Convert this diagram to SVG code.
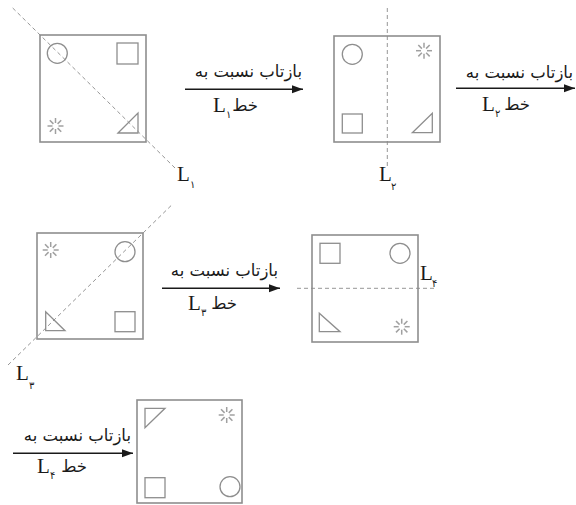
<svg xmlns="http://www.w3.org/2000/svg" width="576" height="505" viewBox="0 0 576 505">
<style>
.box{fill:none;stroke:#8e8e8e;stroke-width:1.6}
.sh{fill:none;stroke:#8e8e8e;stroke-width:1.3}
.ast{stroke:#a0a0a0;stroke-width:1.5;fill:none}
.dash{fill:none;stroke:#8a8a8a;stroke-width:0.9;stroke-dasharray:4 3}
.arr{fill:none;stroke:#1a1a1a;stroke-width:1.5}
.fa{font-family:"DejaVu Sans",sans-serif;font-size:16.5px;fill:#1a1a1a}
.L{font-family:"Liberation Serif",serif;font-size:21px;fill:#1a1a1a}
.sub{font-family:"DejaVu Sans",sans-serif;font-size:10px;fill:#1a1a1a}
</style>
<defs>
<marker id="ah" markerWidth="12" markerHeight="10" refX="11" refY="5" orient="auto" markerUnits="userSpaceOnUse">
<path d="M0,1 L11,5 L0,9 Z" fill="#1a1a1a"/>
</marker>
<g id="star" class="ast">
<line x1="0" y1="-3" x2="0" y2="-8"/>
<line x1="0" y1="3" x2="0" y2="8"/>
<line x1="-3" y1="0" x2="-8" y2="0"/>
<line x1="3" y1="0" x2="8" y2="0"/>
<line x1="2.1" y1="-2.1" x2="5.7" y2="-5.7"/>
<line x1="-2.1" y1="-2.1" x2="-5.7" y2="-5.7"/>
<line x1="2.1" y1="2.1" x2="5.7" y2="5.7"/>
<line x1="-2.1" y1="2.1" x2="-5.7" y2="5.7"/>
</g>
</defs>

<g id="node1">
<rect class="box" x="40" y="35" width="106" height="107"/>
<circle class="sh" cx="57.3" cy="53.3" r="10"/>
<rect class="sh" x="117" y="43" width="21" height="21"/>
<path class="sh" d="M118,133 L138,113 L138,133 Z"/>
<use href="#star" x="55.5" y="126"/>
</g>

<g id="node2">
<rect class="box" x="334" y="36" width="106" height="106"/>
<circle class="sh" cx="352.3" cy="54.3" r="10"/>
<use href="#star" x="424" y="50.7"/>
<rect class="sh" x="342.3" y="114" width="20" height="19"/>
<path class="sh" d="M412.3,132.7 L432.3,113.3 L432.3,132.7 Z"/>
</g>

<g id="node3">
<rect class="box" x="37" y="233" width="106" height="106"/>
<use href="#star" x="50.7" y="250"/>
<circle class="sh" cx="125" cy="251.7" r="10"/>
<path class="sh" d="M45.7,311.7 L45.7,330.7 L65,330.7 Z"/>
<rect class="sh" x="115" y="311.7" width="20" height="20"/>
</g>

<g id="node4">
<rect class="box" x="312" y="235" width="106" height="107"/>
<rect class="sh" x="320" y="243.3" width="20" height="20"/>
<circle class="sh" cx="400" cy="253.3" r="10"/>
<path class="sh" d="M319.3,313.3 L319.3,331.7 L340,331.7 Z"/>
<use href="#star" x="401.7" y="326.7"/>
</g>

<g id="node5">
<rect class="box" x="137" y="400" width="105" height="103"/>
<path class="sh" d="M145,408.3 L165,408.3 L145,427.7 Z"/>
<use href="#star" x="226.7" y="415"/>
<rect class="sh" x="145" y="477.7" width="20" height="20"/>
<circle class="sh" cx="230" cy="486.7" r="10"/>
</g>

<g id="axes">
<line class="dash" x1="12.7" y1="8" x2="175" y2="168"/>
<line class="dash" x1="387.3" y1="8" x2="387.3" y2="168"/>
<line class="dash" x1="8" y1="365" x2="171.7" y2="205"/>
<line class="dash" x1="297" y1="288.3" x2="435" y2="288.3"/>
<text class="L" x="177" y="181">L</text><text class="sub" x="190" y="188">۱</text>
<text class="L" x="379" y="181">L</text><text class="sub" x="391" y="190">۲</text>
<text class="L" x="16" y="380">L</text><text class="sub" x="29" y="389">۳</text>
<text class="L" x="420" y="280">L</text><text class="sub" x="432" y="287">۴</text>
</g>

<g id="connectors">
<line class="arr" x1="185" y1="89.3" x2="303" y2="89.3" marker-end="url(#ah)"/>
<text class="fa" x="302" y="77" text-anchor="end">بازتاب نسبت به</text>
<text class="L" x="213" y="112">L</text><text class="sub" x="226" y="118">۱</text>
<text class="fa" x="258" y="111" text-anchor="end">خط</text>

<line class="arr" x1="456" y1="88.3" x2="575" y2="88.3" marker-end="url(#ah)"/>
<text class="fa" x="573" y="78" text-anchor="end">بازتاب نسبت به</text>
<text class="L" x="482" y="111">L</text><text class="sub" x="495" y="117">۲</text>
<text class="fa" x="530" y="110" text-anchor="end">خط</text>

<line class="arr" x1="162" y1="288.3" x2="280" y2="288.3" marker-end="url(#ah)"/>
<text class="fa" x="278" y="276" text-anchor="end">بازتاب نسبت به</text>
<text class="L" x="188" y="310">L</text><text class="sub" x="201" y="316">۳</text>
<text class="fa" x="237" y="309" text-anchor="end">خط</text>

<line class="arr" x1="13" y1="453.3" x2="133" y2="453.3" marker-end="url(#ah)"/>
<text class="fa" x="131" y="441" text-anchor="end">بازتاب نسبت به</text>
<text class="L" x="37" y="473">L</text><text class="sub" x="50" y="479">۴</text>
<text class="fa" x="87" y="472" text-anchor="end">خط</text>
</g>
</svg>
